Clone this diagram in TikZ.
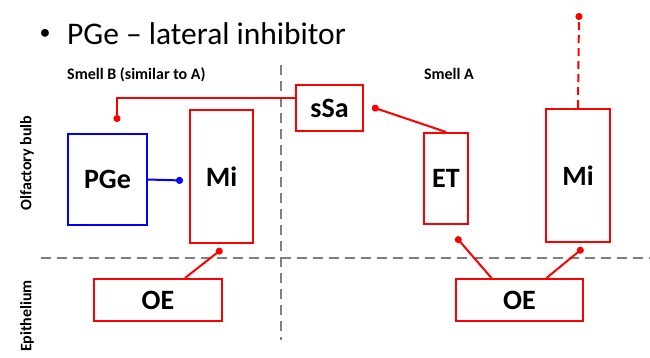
\documentclass[tikz,border=0pt]{standalone}
\usepackage{fontspec}
\setmainfont{Carlito}
\usetikzlibrary{arrows.meta}

\begin{document}
\begin{tikzpicture}[
x=1pt,y=-1pt,
cell/.style={draw=red,line width=2pt,inner sep=0pt,font=\fontsize{28}{32}\selectfont\bfseries},
title/.style={font=\fontsize{31.5}{38}\selectfont,inner sep=0pt},
region/.style={font=\fontsize{16}{19}\selectfont\bfseries,inner sep=0pt},
syn/.style={-{Circle[length=7pt]},red,line width=2pt},
border/.style={gray,line width=2.2pt,dash pattern=on 10pt off 6pt} ]

\useasboundingbox (0,0) rectangle (650,357);

\node[font=\fontsize{22}{26}\selectfont,inner sep=0pt] (bullet) at (45,34) {•};

\node[title,anchor=base west] (head) at (67,44) {PGe – lateral inhibitor};

\node[region,anchor=west] (smellB) at (67,75) {Smell B (similar to A)};

\node[region] (smellA) at (449,74) {Smell A};

\node[region,rotate=90] (bulb) at (27,163) {Olfactory bulb};

\node[region,rotate=90] (epi) at (27,316) {Epithelium};

\coordinate (vtop) at (281,65);
\coordinate (vbot) at (281,340);
\coordinate (hleft) at (41,258);
\coordinate (hright) at (650,258);

\draw[border] (vtop) -- (vbot);

\draw[border] (hleft) -- (hright);

% smell B
\node[cell,draw=blue,minimum width=79pt,minimum height=91pt] (pge) at (107.5,179.5) {PGe};

\node[cell,minimum width=63pt,minimum height=133pt] (miB) at (221.5,176.5) {Mi};

\node[cell,minimum width=128pt,minimum height=42pt] (oeB) at (158,300) {OE};

% smell A
\node[cell,minimum width=67pt,minimum height=46pt] (ssa) at (329.5,108) {sSa};

\node[cell,minimum width=44pt,minimum height=91pt] (et) at (446,178.5) {ET};

\node[cell,minimum width=64pt,minimum height=133pt] (miA) at (578,175.5) {Mi};

\node[cell,minimum width=127pt,minimum height=42pt] (oeA) at (519.5,300) {OE};

\coordinate (pgeIn) at (117,122);
\coordinate (miBIn) at (183,180.5);
\coordinate (miBOut) at (222,249);
\coordinate (ssaIn) at (372,107);
\coordinate (etOut) at (456,237);
\coordinate (miAOut) at (583,248);
\coordinate (miATop) at (579,13);

\draw[syn] ([yshift=10pt]ssa.west) -| (pgeIn);

\draw[syn,blue] (pge.east) -- (miBIn);

\draw[syn] ([xshift=27pt]oeB.north) -- (miBOut);

\draw[syn] (et.north) -- (ssaIn);

\draw[syn] ([xshift=-28pt]oeA.north) -- (etOut);

\draw[syn] ([xshift=27pt]oeA.north) -- (miAOut);

\draw[syn,dash pattern=on 8pt off 5pt] (miA.north) -- (miATop);

\end{tikzpicture}
\end{document}
